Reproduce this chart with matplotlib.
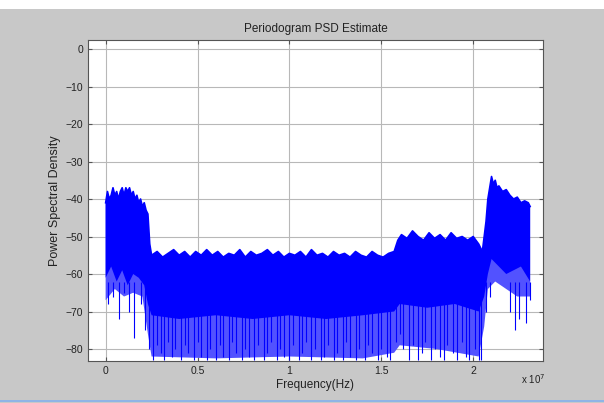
import matplotlib.pyplot as plt

plt.rcParams['font.family'] = ['Liberation Sans', 'DejaVu Sans']

# upper edge of the periodogram trace (frequency in units of 1e7 Hz, dB)
upper_f = [0.0, 0.01, 0.02, 0.03, 0.04, 0.05, 0.06, 0.07, 0.08, 0.09, 0.10, 0.11,
           0.12, 0.13, 0.14, 0.15, 0.16, 0.17, 0.18, 0.19, 0.20, 0.21, 0.22, 0.23,
           0.24, 0.25, 0.28, 0.31, 0.34, 0.37, 0.40, 0.43, 0.46, 0.49, 0.52, 0.55,
           0.58, 0.61, 0.64, 0.67, 0.70, 0.73, 0.76, 0.79, 0.82, 0.85, 0.88, 0.91,
           0.94, 0.97, 1.00, 1.03, 1.06, 1.09, 1.12, 1.15, 1.18, 1.21, 1.24, 1.27,
           1.30, 1.33, 1.36, 1.39, 1.42, 1.45, 1.48, 1.51, 1.54, 1.57, 1.59, 1.61,
           1.64, 1.67, 1.70, 1.73, 1.76, 1.79, 1.82, 1.85, 1.88, 1.91, 1.94, 1.97,
           2.00, 2.03, 2.05, 2.07, 2.08, 2.09, 2.10, 2.11, 2.12, 2.13, 2.14, 2.16,
           2.18, 2.20, 2.22, 2.24, 2.26, 2.28, 2.30, 2.31]
upper_db = [-41, -38, -40, -39, -37, -39, -38, -40, -38, -37, -39, -37,
            -38, -37, -39, -38, -40, -39, -41, -40, -42, -41, -43, -44,
            -52, -55, -54, -55.5, -54.5, -53.5, -55, -54, -55.5, -54, -55, -53.5,
            -55, -54, -55.5, -54.5, -55, -53.5, -55.5, -54, -55, -54.5, -53.5, -55,
            -54, -55.5, -54.5, -55, -54, -55.5, -53.5, -55, -54.5, -55.5, -54, -55,
            -54.5, -55.5, -54, -55, -55.5, -54, -55, -55.5, -54.5, -54, -51, -49.5,
            -50.5, -48.5, -50, -51, -49, -50.5, -49.5, -51, -49, -50.5, -50, -51,
            -50, -52, -54, -46, -40, -37, -34, -36, -35, -37, -36.5, -38,
            -37.5, -39, -40, -39.5, -41, -40.5, -41, -42]

# bottom of the solid part of the trace
core_f = [0.0, 0.03, 0.06, 0.09, 0.12, 0.15, 0.18, 0.21, 0.23, 0.25, 0.40, 0.60,
          0.80, 1.00, 1.20, 1.40, 1.57, 1.60, 1.75, 1.90, 2.03, 2.06, 2.08, 2.10,
          2.14, 2.18, 2.22, 2.26, 2.31]
core_db = [-61, -58, -62, -59, -63, -60, -61, -63, -68, -71, -72, -71,
           -72, -71, -72, -71, -70, -68, -69, -68, -70, -66, -60, -56,
           -58, -60, -59, -58, -62]

# lower fringe, where the trace is broken up by dips
haze_f = [0.0, 0.05, 0.10, 0.15, 0.20, 0.23, 0.25, 0.60, 1.00, 1.40, 1.57, 1.60,
          1.80, 2.03, 2.06, 2.08, 2.12, 2.18, 2.24, 2.31]
haze_db = [-67, -64, -66, -65, -66, -76, -82, -82.5, -82, -82.5, -81, -79,
           -80, -82, -74, -64, -62, -64, -66, -66]

# deep single-bin dips
dip_f = [0.015, 0.04, 0.07, 0.10, 0.125, 0.155, 0.19, 0.215, 0.235,
         0.26, 0.28, 0.30, 0.32, 0.34, 0.36, 0.38, 0.41, 0.43, 0.45, 0.48, 0.50,
         0.52, 0.55, 0.57, 0.60, 0.62, 0.64, 0.67, 0.69, 0.71, 0.74, 0.76, 0.78,
         0.81, 0.83, 0.86, 0.88, 0.90, 0.93, 0.95, 0.97, 1.00, 1.02, 1.05, 1.07,
         1.09, 1.12, 1.14, 1.17, 1.19, 1.21, 1.24, 1.26, 1.29, 1.31, 1.33, 1.36,
         1.38, 1.41, 1.43, 1.45, 1.48, 1.50, 1.53, 1.55, 1.58, 1.60, 1.62, 1.65,
         1.67, 1.70, 1.72, 1.74, 1.77, 1.79, 1.82, 1.84, 1.86, 1.89, 1.91, 1.94,
         1.96, 1.98, 2.01, 2.03, 2.045,
         2.07, 2.09, 2.20, 2.23, 2.25, 2.29, 2.31]
dip_db = [-68, -66, -72, -65, -70, -77, -68, -75, -80,
          -83, -79, -81, -83, -78, -82, -80, -83, -79, -81, -83, -78,
          -82, -83, -80, -83, -79, -82, -83, -78, -81, -83, -80, -82,
          -83, -79, -83, -81, -78, -83, -80, -82, -83, -79, -83, -81,
          -78, -83, -80, -83, -82, -79, -83, -81, -83, -78, -82, -83,
          -80, -83, -79, -81, -83, -80, -82, -83, -78, -76, -80, -83,
          -79, -83, -81, -78, -83, -80, -82, -83, -79, -81, -83, -78,
          -82, -83, -80, -83, -83,
          -70, -66, -70, -75, -72, -73, -67]

xticks = [0, 0.5, 1, 1.5, 2]
xticklabels = ['0', '0.5', '1', '1.5', '2']
yticks = [0, -10, -20, -30, -40, -50, -60, -70, -80]

fig = plt.figure(figsize=(6.04, 4.03), dpi=100, facecolor='#c8c8c8')
ax = fig.add_axes([0.1457, 0.1042, 0.7533, 0.7965])
ax.set_facecolor('white')

blue = '#0000ff'
# closed outlines: upper edge left to right, lower edge back right to left
ax.fill(upper_f + haze_f[::-1], upper_db + haze_db[::-1],
        color='#5252ff', lw=0, zorder=2)
ax.vlines(dip_f, dip_db, -62, color=blue, lw=0.8, zorder=3)
ax.fill(upper_f + core_f[::-1], upper_db + core_db[::-1],
        color=blue, lw=0, zorder=4)
ax.plot(upper_f, upper_db, color=blue, lw=1.2, zorder=5)

ax.set_xlim(-0.096, 2.38)
ax.set_ylim(-83.2, 2.4)
ax.set_xticks(xticks)
ax.set_xticklabels(xticklabels)
ax.set_yticks(yticks)
ax.grid(True, color='#b8b8b8', lw=0.8, zorder=1)
ax.set_axisbelow(True)
ax.tick_params(direction='in', top=True, right=True, length=3, labelsize=7.5,
               color='#555555', labelcolor='#222222')
for s in ax.spines.values():
    s.set_color('#555555')
    s.set_linewidth(0.8)
    s.set_zorder(6)

ax.set_title('Periodogram PSD Estimate', fontsize=8.5, color='#222222', pad=6)
ax.set_xlabel('Frequency(Hz)', fontsize=8.5, color='#222222', labelpad=2)
ax.set_ylabel('Power Spectral Density', fontsize=9, color='#222222', labelpad=3)
fig.text(0.862, 0.048, r'x 10$^7$', fontsize=7, color='#222222')

# white strip along the top and thin blue rule near the bottom
fig.patches.append(plt.Rectangle((0, 0.978), 1, 0.022, transform=fig.transFigure,
                                 facecolor='white', edgecolor='none'))
fig.patches.append(plt.Rectangle((0, 0.003), 1, 0.004, transform=fig.transFigure,
                                 facecolor='#8fb4e6', edgecolor='none'))

fig.savefig('out.png', dpi=100, facecolor=fig.get_facecolor())
